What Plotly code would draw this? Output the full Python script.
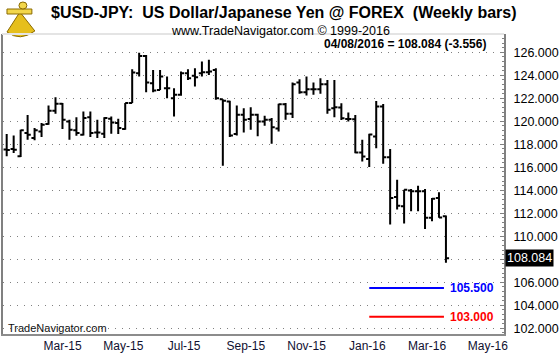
import plotly.graph_objects as go
import pandas as pd

# ---------------- data ----------------
first_week = "2015-01-23"   # weekly bars (Friday dates), last = 2016-04-08
opens = [117.55, 117.59, 116.95, 118.98, 118.54, 119.12, 119.76, 120.91, 121.52, 119.99,
         119.21, 118.83, 120.36, 119.03, 118.92, 120.22, 119.84, 119.32, 121.58, 124.18,
         125.68, 123.31, 122.73, 122.88, 122.01, 122.30, 124.18, 123.95, 124.18, 124.27,
         124.47, 121.92, 121.72, 118.89, 120.57, 120.19, 120.57, 119.99, 120.13, 119.38,
         121.49, 120.65, 123.37, 122.53, 122.79, 122.79, 123.23, 121.14, 121.20, 120.20,
         120.18, 117.29, 116.71, 118.68, 121.28, 116.88, 113.42, 112.60, 113.99, 113.91,
         113.91, 111.60, 113.33, 111.74]
highs = [118.89, 118.77, 119.27, 120.54, 119.41, 119.84, 121.38, 122.10, 121.58, 120.13,
         120.36, 120.86, 120.86, 120.13, 120.36, 120.42, 120.22, 121.58, 124.53, 125.97,
         125.77, 124.47, 124.47, 123.89, 122.88, 124.32, 124.53, 124.61, 125.19, 125.34,
         124.61, 121.92, 121.78, 121.38, 121.14, 121.23, 120.65, 120.48, 120.28, 121.52,
         121.58, 123.37, 123.66, 123.89, 123.37, 123.75, 123.60, 123.60, 121.57, 120.76,
         120.55, 118.39, 118.91, 121.77, 121.51, 117.58, 114.92, 114.05, 114.11, 114.40,
         114.11, 113.33, 113.82, 111.80]
lows = [116.95, 117.24, 116.90, 118.40, 118.34, 118.63, 119.70, 120.65, 119.32, 118.40,
        118.75, 118.77, 118.63, 118.54, 118.54, 118.92, 118.89, 119.27, 121.58, 123.89,
        122.53, 122.53, 122.73, 122.01, 120.42, 122.21, 123.60, 123.02, 123.89, 124.03,
        121.87, 116.14, 118.63, 118.77, 119.03, 119.27, 118.69, 119.61, 118.05, 119.12,
        120.13, 120.28, 122.39, 122.24, 122.30, 122.39, 120.65, 120.36, 120.12, 119.98,
        117.23, 116.51, 116.02, 117.66, 116.31, 111.02, 112.32, 111.10, 112.17, 112.17,
        110.64, 111.31, 111.60, 107.69]
closes = [117.50, 117.53, 119.21, 118.83, 119.21, 119.70, 120.91, 121.52, 120.13, 119.27,
          118.98, 120.28, 118.98, 119.03, 120.28, 119.90, 119.41, 121.58, 124.24, 125.68,
          123.37, 122.68, 123.89, 122.88, 122.30, 124.18, 123.75, 123.83, 124.27, 124.32,
          122.01, 121.78, 118.77, 120.57, 120.13, 120.57, 119.99, 120.13, 119.47, 121.49,
          120.65, 123.23, 122.53, 122.79, 122.79, 123.23, 121.00, 121.23, 120.27, 120.20,
          117.29, 116.94, 118.85, 121.28, 116.88, 113.33, 112.66, 114.05, 113.91, 113.91,
          111.60, 113.27, 111.64, 108.084]

last_date_text = "04/08/2016"
last_value = 108.084
last_change = -3.556

level_values = [105.5, 103.0]
level_colors = ["#0000ff", "#ff0000"]
level_start = "2016-01-22"
level_end = "2016-04-06"

month_ticks = ["2015-03-01", "2015-05-01", "2015-07-01", "2015-09-01",
               "2015-11-01", "2016-01-01", "2016-03-01", "2016-05-01"]
month_labels = ["Mar-15", "May-15", "Jul-15", "Sep-15", "Nov-15", "Jan-16", "Mar-16", "May-16"]

price_ticks = [102, 104, 106, 108, 110, 112, 114, 116, 118, 120, 122, 124, 126]
# the 108 label sits under the last-value box, so it is left blank
price_labels = ["" if v == 108 else f"{v:.3f}" for v in price_ticks]

# ---------------- layout helpers ----------------
W, H = 560, 354
ML, MR, MT, MB = 1, 56, 34, 20
PW = W - ML - MR
PH = H - MT - MB


def px(x):
    return (x - ML) / PW


def py(y):
    return (H - MB - y) / PH


FONT = "Liberation Sans, Arial, sans-serif"

week_dates = pd.date_range(first_week, periods=len(closes), freq="7D")

fig = go.Figure()
fig.add_trace(go.Ohlc(
    x=week_dates, open=opens, high=highs, low=lows, close=closes,
    increasing=dict(line=dict(color="black", width=2)),
    decreasing=dict(line=dict(color="black", width=2)),
    tickwidth=0.45, hoverinfo="skip", showlegend=False,
))

for v, c in zip(level_values, level_colors):
    fig.add_trace(go.Scatter(
        x=[level_start, level_end], y=[v, v], mode="lines",
        line=dict(color=c, width=2), hoverinfo="skip", showlegend=False,
    ))

annotations = [
    dict(text="<b>$USD-JPY:\u00a0 US Dollar/Japanese Yen @ FOREX\u00a0 (Weekly bars)</b>",
         xref="paper", yref="paper", x=px(47), y=py(13), xanchor="left", yanchor="middle",
         showarrow=False, font=dict(family=FONT, size=16, color="black")),
    dict(text="www.TradeNavigator.com © 1999-2016",
         xref="paper", yref="paper", x=px(280), y=py(31), xanchor="center", yanchor="middle",
         showarrow=False, font=dict(family=FONT, size=12.5, color="black")),
    dict(text=f"<b>{last_date_text} = {last_value:.3f} ({last_change:.3f})</b>",
         xref="paper", yref="paper", x=px(488), y=py(44), xanchor="right", yanchor="middle",
         showarrow=False, font=dict(family=FONT, size=12, color="black")),
    dict(text="TradeNavigator.com",
         xref="paper", yref="paper", x=px(4), y=py(328), xanchor="left", yanchor="middle",
         showarrow=False, font=dict(family=FONT, size=11, color="#111111")),
    dict(text=f"{last_value:.3f}",
         xref="paper", yref="y", x=px(505), y=last_value, xanchor="left", yanchor="middle",
         showarrow=False, bgcolor="black", borderpad=1,
         font=dict(family=FONT, size=12.5, color="white")),
]
for v, c in zip(level_values, level_colors):
    annotations.append(dict(text=f"<b>{v:.3f}</b>", xref="paper", yref="y", x=px(448), y=v,
                            xanchor="left", yanchor="middle", showarrow=False,
                            font=dict(family=FONT, size=12, color=c)))

# simple golden sextant logo
gold, dark = "#e6bf1c", "#8a6a00"
shapes = [
    dict(type="path", xref="paper", yref="paper",
         path=f"M {px(18)},{py(12)} L {px(5)},{py(32)} Q {px(18)},{py(42)} {px(33)},{py(31)} Z",
         fillcolor=gold, line=dict(color=dark, width=1)),
    dict(type="rect", xref="paper", yref="paper", x0=px(5), x1=px(30), y0=py(14), y1=py(9),
         fillcolor="#f2d64a", line=dict(color=dark, width=1)),
    dict(type="circle", xref="paper", yref="paper", x0=px(17), x1=px(25), y0=py(9), y1=py(2),
         fillcolor="#f2d64a", line=dict(color=dark, width=1)),
    dict(type="line", xref="paper", yref="paper", x0=px(0), x1=px(504), y0=1, y1=1,
         line=dict(color="#e4e4e4", width=2)),
]

fig.update_layout(
    width=W, height=H, margin=dict(l=ML, r=MR, t=MT, b=MB, pad=0),
    paper_bgcolor="white", plot_bgcolor="white",
    showlegend=False, hovermode=False,
    annotations=annotations, shapes=shapes,
    font=dict(family=FONT, color="black"),
    xaxis=dict(type="date", range=["2015-01-19 07:00", "2016-06-05 07:00"],
               tickvals=month_ticks, ticktext=month_labels, ticklabelshift=19,
               showgrid=False, zeroline=False, ticks="",
               showline=True, linecolor="#8c8c8c", linewidth=2,
               rangeslider=dict(visible=False),
               tickfont=dict(family=FONT, size=12, color="#101030")),
    yaxis=dict(side="right", range=[101.50, 127.59],
               tickmode="array", tickvals=price_ticks, ticktext=price_labels,
               showgrid=True, gridcolor="#808080", griddash="1px,6px", gridwidth=1,
               ticks="inside", ticklen=4, tickcolor="#808080", tickwidth=1,
               minor=dict(tick0=102, dtick=0.4, ticks="inside", ticklen=2,
                          tickcolor="#808080", showgrid=False),
               showline=True, linecolor="#808080", linewidth=2, mirror=True,
               zeroline=False, ticklabelstandoff=5,
               tickfont=dict(family=FONT, size=12.5, color="black")),
)

fig.write_html("out.html")
